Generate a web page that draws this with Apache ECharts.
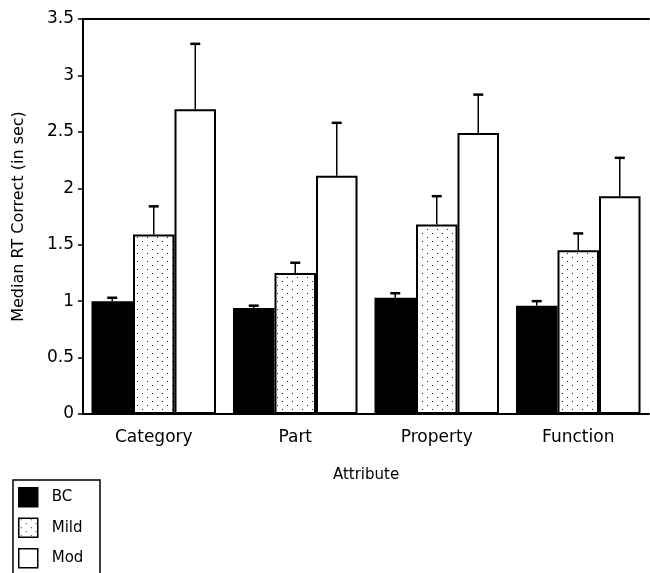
<!DOCTYPE html>
<html>
<head>
<meta charset="utf-8">
<script src="https://cdn.jsdelivr.net/npm/echarts@6/dist/echarts.min.js"></script>
<style>
html,body{margin:0;padding:0;background:#fff;}
#main{width:650px;height:573px;}
</style>
</head>
<body>
<div id="main"></div>
<script>
//类别
var categories = ['Category', 'Part', 'Property', 'Function'];
var groups = ['BC', 'Mild', 'Mod'];
//均值
var bcValues = [1.00, 0.94, 1.03, 0.96];
var mildValues = [1.59, 1.25, 1.68, 1.45];
var modValues = [2.70, 2.11, 2.49, 1.93];
//误差上端
var bcErrTop = [1.03, 0.96, 1.07, 1.00];
var mildErrTop = [1.84, 1.34, 1.93, 1.60];
var modErrTop = [3.28, 2.58, 2.83, 2.27];
var yTicks = [0, 0.5, 1, 1.5, 2, 2.5, 3, 3.5];

var FONT = 'DejaVu Sans';
var CAT_GAP = 0.12;

//点状填充
function dotPattern(){
	var c = document.createElement('canvas');
	c.width = 10; c.height = 8;
	var ctx = c.getContext('2d');
	ctx.fillStyle = '#fff';
	ctx.fillRect(0, 0, 10, 8);
	ctx.fillStyle = '#222';
	ctx.fillRect(2, 1, 1, 1);
	ctx.fillRect(7, 5, 1, 1);
	return c;
}

function errSeries(idx, means, tops){
	var data = means.map(function(v, i){ return [i, v, tops[i]]; });
	return {
		type: 'custom',
		name: 'err' + idx,
		silent: true,
		z: 5,
		data: data,
		renderItem: function(params, api){
			var band = api.size([1, 0])[0];
			var groupW = band * (1 - CAT_GAP);
			var barW = groupW / 3;
			var c = api.coord([api.value(0), api.value(1)]);
			var t = api.coord([api.value(0), api.value(2)]);
			var x = c[0] - groupW / 2 + barW * (idx + 0.5);
			return {
				type: 'group',
				children: [
					{type: 'line', shape: {x1: x, y1: c[1], x2: x, y2: t[1]},
						style: {stroke: '#000', lineWidth: 1.5}},
					{type: 'line', shape: {x1: x - 5, y1: t[1], x2: x + 5, y2: t[1]},
						style: {stroke: '#000', lineWidth: 2.5}}
				]
			};
		}
	};
}

var dom = document.getElementById('main');
var myChart = echarts.init(dom);
var option = {
	backgroundColor: '#fff',
	animation: false,
	textStyle: {fontFamily: FONT, color: '#000'},
	grid: {left: 83, right: 1, top: 19, bottom: 159},
	//图例外框(下方被裁掉)
	graphic: [{
		type: 'rect',
		shape: {x: 13, y: 480, width: 87, height: 110},
		style: {fill: 'none', stroke: '#000', lineWidth: 1.5}
	}],
	legend: {
		orient: 'vertical',
		left: 18,
		top: 487,
		data: groups,
		icon: 'rect',
		itemWidth: 19,
		itemHeight: 19,
		itemGap: 10,
		padding: 0,
		textStyle: {fontFamily: FONT, fontSize: 15, color: '#000', padding: [0, 0, 0, 9]},
		itemStyle: {borderColor: '#000', borderWidth: 1.5}
	},
	xAxis: [{
		type: 'category',
		data: categories,
		name: 'Attribute',
		nameLocation: 'middle',
		nameGap: 54,
		nameTextStyle: {fontFamily: FONT, fontSize: 15, color: '#000'},
		axisLine: {lineStyle: {color: '#000', width: 2}},
		axisTick: {alignWithLabel: true, length: 4, lineStyle: {color: '#000', width: 1.5}},
		axisLabel: {fontFamily: FONT, fontSize: 17, color: '#000', margin: 15}
	}, {
		type: 'category',
		position: 'top',
		data: categories,
		axisLine: {lineStyle: {color: '#000', width: 2}},
		axisTick: {show: false},
		axisLabel: {show: false}
	}],
	yAxis: {
		type: 'value',
		min: 0,
		max: 3.5,
		interval: 0.5,
		name: 'Median RT Correct (in sec)',
		nameLocation: 'middle',
		nameGap: 56,
		nameTextStyle: {fontFamily: FONT, fontSize: 16, color: '#000'},
		axisLine: {show: true, lineStyle: {color: '#000', width: 2}},
		axisTick: {show: true, length: 5, lineStyle: {color: '#000', width: 1.5}},
		splitLine: {show: false},
		axisLabel: {
			fontFamily: FONT, fontSize: 17, color: '#000', margin: 9,
			formatter: function(v){
				return yTicks.indexOf(v) >= 0 ? String(v) : '';
			}
		}
	},
	series: [{
		name: 'BC',
		type: 'bar',
		data: bcValues,
		barGap: '0%',
		barCategoryGap: (CAT_GAP * 100) + '%',
		itemStyle: {color: '#000', borderColor: '#000', borderWidth: 2}
	}, {
		name: 'Mild',
		type: 'bar',
		data: mildValues,
		barGap: '0%',
		barCategoryGap: (CAT_GAP * 100) + '%',
		itemStyle: {color: {image: dotPattern(), repeat: 'repeat'}, borderColor: '#000', borderWidth: 2}
	}, {
		name: 'Mod',
		type: 'bar',
		data: modValues,
		barGap: '0%',
		barCategoryGap: (CAT_GAP * 100) + '%',
		itemStyle: {color: '#fff', borderColor: '#000', borderWidth: 2}
	},
	errSeries(0, bcValues, bcErrTop),
	errSeries(1, mildValues, mildErrTop),
	errSeries(2, modValues, modErrTop)
	]
};
if (option && typeof option === "object") {
	myChart.setOption(option, true);
}
</script>
</body>
</html>
